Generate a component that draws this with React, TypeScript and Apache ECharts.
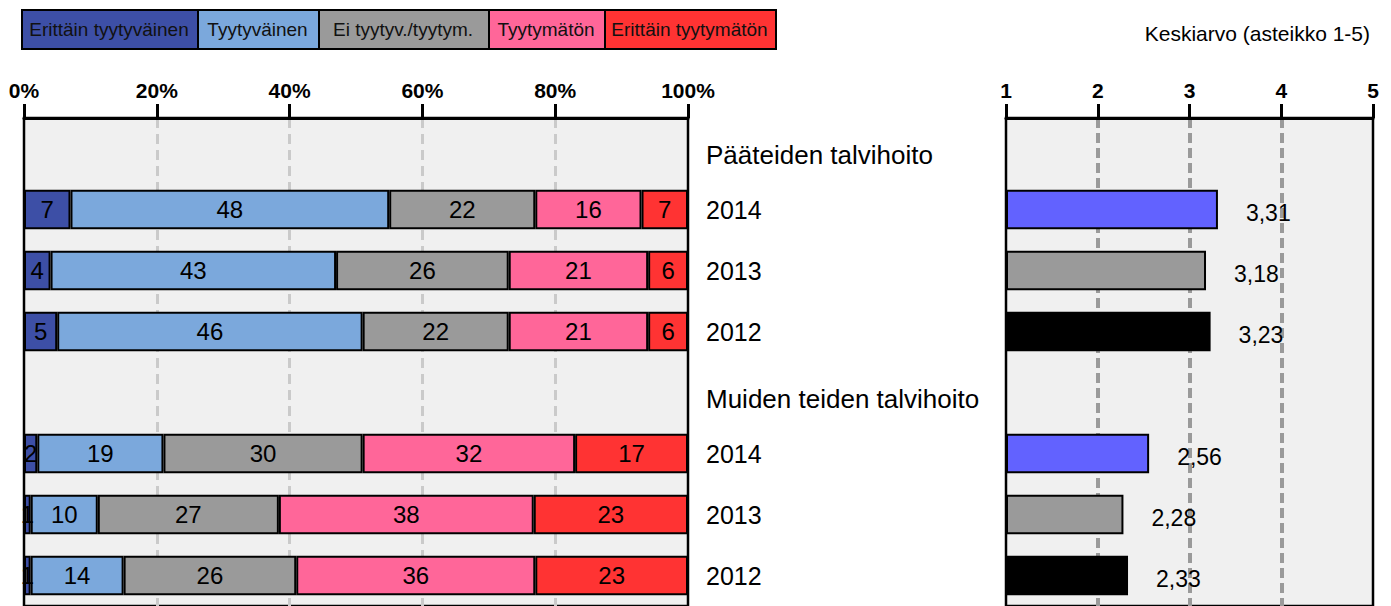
import React, { useEffect, useRef } from "react";
import * as echarts from "echarts";

const categories = [
  "Pääteiden talvihoito",
  "2014",
  "2013",
  "2012",
  "Muiden teiden talvihoito",
  "2014",
  "2013",
  "2012",
];

const seriesNames = [
  "Erittäin tyytyväinen",
  "Tyytyväinen",
  "Ei tyytyv./tyytym.",
  "Tyytymätön",
  "Erittäin tyytymätön",
];

const verysatisfied = [null, 7, 4, 5, null, 2, 1, 1];
const satisfied = [null, 48, 43, 46, null, 19, 10, 14];
const neutral = [null, 22, 26, 22, null, 30, 27, 26];
const dissatisfied = [null, 16, 21, 21, null, 32, 38, 36];
const veryDissatisfied = [null, 7, 6, 6, null, 17, 23, 23];

const meanValues = [null, 3.31, 3.18, 3.23, null, 2.56, 2.28, 2.33];

const percentTicks = [0, 20, 40, 60, 80, 100];
const meanTicks = [1, 2, 3, 4, 5];

const meanTitle = "Keskiarvo (asteikko 1-5)";

const seriesColors = ["#3d4fa6", "#7ba8dc", "#9a9a9a", "#ff6699", "#ff3333"];
const yearColors: Record<string, string> = {
  "2014": "#6262ff",
  "2013": "#9a9a9a",
  "2012": "#000000",
};

const FONT = "'Liberation Sans', Arial, Helvetica, sans-serif";

export default function App() {
  const ref = useRef<HTMLDivElement>(null);

  useEffect(() => {
    if (!ref.current) return;
    const chart = echarts.init(ref.current, undefined, { renderer: "svg" });

    const allSeries = [verysatisfied, satisfied, neutral, dissatisfied, veryDissatisfied];
    const totals = categories.map((_, i) =>
      allSeries.reduce((s, arr) => s + (arr[i] ?? 0), 0)
    );

    const stackSeries = allSeries.map((arr, si) => ({
      name: seriesNames[si],
      type: "bar",
      stack: "pct",
      xAxisIndex: 0,
      yAxisIndex: 0,
      barCategoryGap: "35%",
      itemStyle: { color: seriesColors[si], borderColor: "#000", borderWidth: 2 },
      labelLayout: { hideOverlap: false },
      label: {
        show: true,
        position: "inside",
        color: "#000",
        fontSize: 24,
        fontFamily: FONT,
        overflow: "none",
        formatter: (p: any) => (p.data && p.data.raw != null ? String(p.data.raw) : ""),
      },
      data: arr.map((v, i) =>
        v == null ? "-" : { value: (v / totals[i]) * 100, raw: v }
      ),
    }));

    const meanSeries = {
      name: "Keskiarvo",
      type: "bar",
      xAxisIndex: 1,
      yAxisIndex: 1,
      barCategoryGap: "35%",
      clip: true,
      label: {
        show: true,
        position: "right",
        distance: 28,
        offset: [0, 3],
        color: "#000",
        fontSize: 23,
        fontFamily: FONT,
        formatter: (p: any) => Number(p.value).toFixed(2).replace(".", ","),
      },
      data: meanValues.map((v, i) =>
        v == null
          ? "-"
          : {
              value: v,
              itemStyle: {
                color: yearColors[categories[i]] || "#999",
                borderColor: "#000",
                borderWidth: 2,
              },
            }
      ),
    };

    const legendX = [21, 197, 318, 488, 604, 775];
    const legendGraphics: any[] = [];
    seriesNames.forEach((n, i) => {
      legendGraphics.push({
        type: "rect",
        left: legendX[i],
        top: 9,
        shape: { width: legendX[i + 1] - legendX[i], height: 39 },
        style: { fill: seriesColors[i], stroke: "#000", lineWidth: 2 },
      });
      legendGraphics.push({
        type: "text",
        x: (legendX[i] + legendX[i + 1]) / 2,
        y: 29,
        style: {
          text: n,
          fill: "#111",
          font: `19px ${FONT}`,
          textAlign: "center",
          textVerticalAlign: "middle",
        },
      });
    });
    legendGraphics.push({
      type: "text",
      x: 1370,
      y: 33,
      style: {
        text: meanTitle,
        fill: "#000",
        font: `21px ${FONT}`,
        textAlign: "right",
        textVerticalAlign: "middle",
      },
    });

    const axisTickStyle = { show: true, length: 14, lineStyle: { color: "#000", width: 3 } };

    chart.setOption({
      animation: false,
      grid: [
        {
          left: 24,
          right: 1391 - 688,
          top: 118,
          bottom: -2,
          show: true,
          backgroundColor: "#f0f0f0",
          borderColor: "#000",
          borderWidth: 2.5,
        },
        {
          left: 1006,
          right: 1391 - 1373,
          top: 118,
          bottom: -2,
          show: true,
          backgroundColor: "#f0f0f0",
          borderColor: "#000",
          borderWidth: 2.5,
        },
      ],
      xAxis: [
        {
          gridIndex: 0,
          type: "value",
          position: "top",
          min: percentTicks[0],
          max: percentTicks[percentTicks.length - 1],
          interval: 20,
          axisLine: { show: true, lineStyle: { color: "#000", width: 3 } },
          axisTick: axisTickStyle,
          axisLabel: {
            margin: 17,
            color: "#000",
            fontSize: 21,
            fontWeight: "bold",
            fontFamily: FONT,
            formatter: "{value}%",
          },
          splitLine: {
            show: true,
            showMinLine: false,
            showMaxLine: false,
            lineStyle: { color: "#cacaca", width: 3, type: [10, 6] },
          },
        },
        {
          gridIndex: 1,
          type: "value",
          position: "top",
          min: meanTicks[0],
          max: meanTicks[meanTicks.length - 1],
          interval: 1,
          startValue: 1,
          axisLine: { show: true, lineStyle: { color: "#000", width: 3 } },
          axisTick: axisTickStyle,
          axisLabel: {
            margin: 17,
            color: "#000",
            fontSize: 21,
            fontWeight: "bold",
            fontFamily: FONT,
          },
          splitLine: {
            show: true,
            showMinLine: false,
            showMaxLine: false,
            lineStyle: { color: "#9a9a9a", width: 4, type: [10, 5] },
          },
        },
      ],
      yAxis: [
        {
          gridIndex: 0,
          type: "category",
          inverse: true,
          position: "right",
          data: categories,
          axisLine: { show: false },
          axisTick: { show: false },
          axisLabel: {
            margin: 18,
            color: "#000",
            fontSize: 25,
            fontFamily: FONT,
            formatter: (v: string) => (/^\d+$/.test(v) ? v : `{h|${v}}`),
            rich: {
              h: { fontSize: 26, fontFamily: FONT, color: "#000", padding: [13, 0, 0, 0] },
            },
          },
        },
        {
          gridIndex: 1,
          type: "category",
          inverse: true,
          data: categories,
          axisLine: { show: false },
          axisTick: { show: false },
          axisLabel: { show: false },
        },
      ],
      graphic: legendGraphics,
      series: [...stackSeries, meanSeries],
    } as any);

    return () => chart.dispose();
  }, []);

  return (
    <div
      ref={ref}
      style={{ position: "fixed", left: 0, top: 0, width: 1391, height: 606, background: "#fff" }}
    />
  );
}
